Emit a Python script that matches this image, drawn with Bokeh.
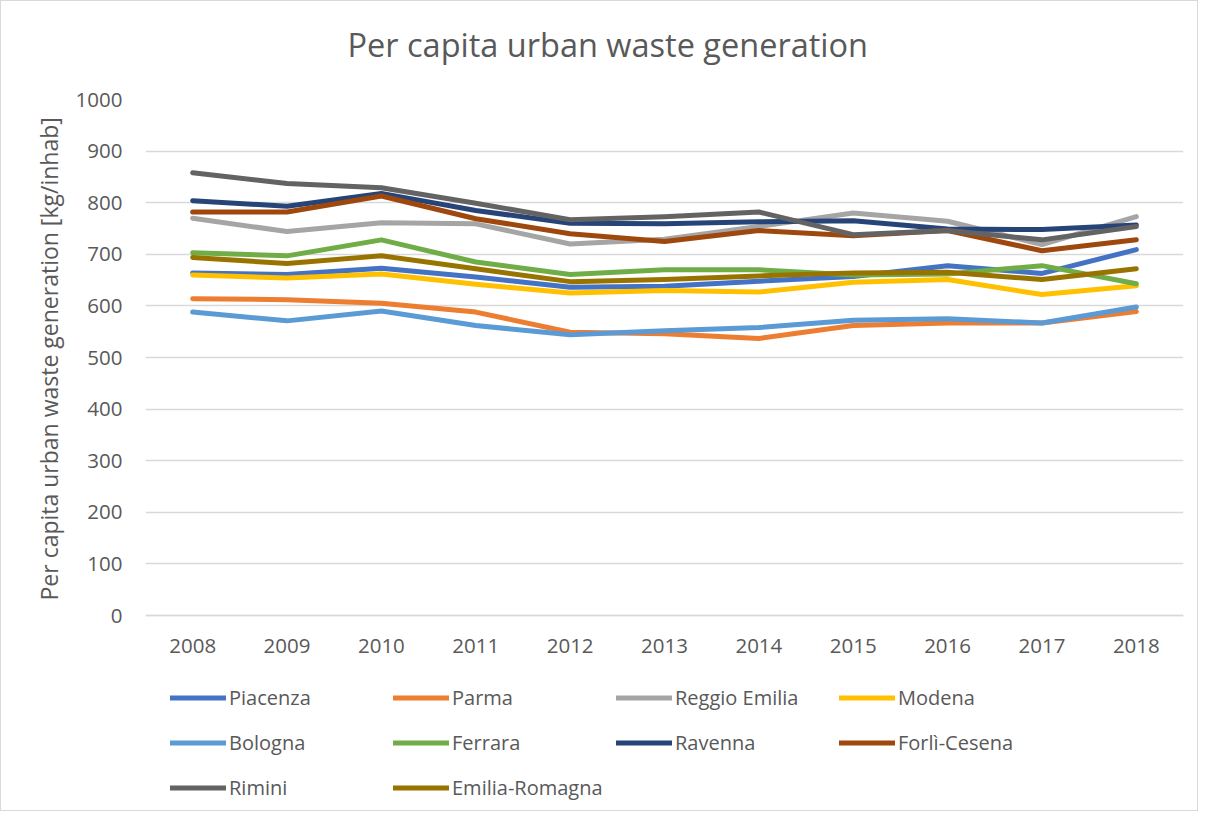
from bokeh.plotting import figure
from bokeh.models import Legend, LegendItem, Title, Range1d, FixedTicker
from bokeh.embed import file_html
from bokeh.resources import INLINE

years = ["2008", "2009", "2010", "2011", "2012", "2013", "2014", "2015", "2016", "2017", "2018"]

piacenza = [664, 661, 673, 656, 636, 638, 648, 657, 678, 663, 709]
parma = [614, 612, 605, 588, 549, 546, 537, 562, 567, 567, 589]
reggio_emilia = [770, 744, 761, 759, 720, 729, 754, 780, 764, 719, 773]
modena = [660, 654, 662, 642, 625, 630, 627, 646, 651, 622, 639]
bologna = [588, 571, 590, 562, 544, 552, 558, 572, 575, 567, 598]
ferrara = [703, 697, 728, 685, 661, 670, 670, 660, 662, 678, 643]
ravenna = [804, 793, 818, 785, 760, 759, 763, 765, 749, 748, 757]
forli_cesena = [782, 782, 813, 769, 740, 725, 746, 736, 746, 707, 728]
rimini = [858, 837, 829, 799, 767, 773, 782, 738, 746, 728, 754]
emilia_romagna = [694, 682, 697, 672, 647, 651, 658, 664, 665, 651, 672]

series_names = ["Piacenza", "Parma", "Reggio Emilia", "Modena", "Bologna", "Ferrara",
                "Ravenna", "Forlì-Cesena", "Rimini", "Emilia-Romagna"]
series_values = [piacenza, parma, reggio_emilia, modena, bologna, ferrara,
                 ravenna, forli_cesena, rimini, emilia_romagna]
colors = ["#4472C4", "#ED7D31", "#A5A5A5", "#FFC000", "#5B9BD5", "#70AD47",
          "#264478", "#9E480E", "#636363", "#997300"]
y_ticks = list(range(0, 1001, 100))

FONT = "Open Sans"
TXT = "#595959"

# plot area: 0..1000 spans 516 px; frame extends below to hold the legend
PLOT_H = 516
FRAME_H = 711
y_start = 1000 - FRAME_H * 1000.0 / PLOT_H

p = figure(x_range=years, y_range=Range1d(y_start, 1000),
           frame_width=1038, frame_height=FRAME_H,
           min_border_left=144, min_border_right=14, min_border_top=98, min_border_bottom=0,
           output_backend="svg", toolbar_location=None)
p.outline_line_color = None
p.background_fill_color = "white"
p.border_fill_color = "white"
p.styles = {"border": "1px solid #d9d9d9"}

p.title = Title(text="Per capita urban waste generation", align="left", offset=202,
                text_font=FONT, text_font_size="32.5px", text_font_style="normal",
                text_color=TXT, standoff=0, vertical_align="middle")
spacer = Title(text=" ", text_font=FONT, text_font_size="22px", standoff=0,
               text_color="white")
p.add_layout(spacer, "above")

p.xgrid.grid_line_color = None
p.ygrid.grid_line_color = "#d9d9d9"
p.ygrid.grid_line_width = 1.5
p.yaxis.ticker = FixedTicker(ticks=y_ticks)

for ax in (p.xaxis[0], p.yaxis[0]):
    ax.axis_line_color = None
    ax.major_tick_line_color = None
    ax.minor_tick_line_color = None
    ax.major_tick_out = 0
    ax.major_tick_in = 0
    ax.major_label_text_font = FONT
    ax.major_label_text_font_size = "20.5px"
    ax.major_label_text_color = TXT
p.xaxis.fixed_location = 0
p.xaxis.axis_line_color = "#d9d9d9"
p.xaxis.axis_line_width = 1.5
p.xaxis.major_label_standoff = 23
p.yaxis.major_label_standoff = 23

ylabel = Title(text="Per capita urban waste generation [kg/inhab]", align="left",
               offset=FRAME_H - PLOT_H + 15, text_font=FONT, text_font_size="23px",
               text_font_style="normal", text_color=TXT, standoff=13,
               vertical_align="middle")
p.add_layout(ylabel, "left")

items = []
for name, vals, col in zip(series_names, series_values, colors):
    r = p.line(x=years, y=vals, line_color=col, line_width=5,
               line_cap="round", line_join="round")
    items.append(LegendItem(label=name, renderers=[r]))

legend = Legend(items=items, orientation="horizontal", ncols=4,
                location=(25, 0), padding=0, margin=0, spacing=0,
                glyph_width=56, glyph_height=45, label_height=45,
                label_width=164, label_standoff=3,
                label_text_font=FONT, label_text_font_size="20px",
                label_text_color=TXT, border_line_alpha=0,
                background_fill_alpha=0)
p.add_layout(legend, "center")

open("out.html", "w").write(file_html(p, INLINE))
